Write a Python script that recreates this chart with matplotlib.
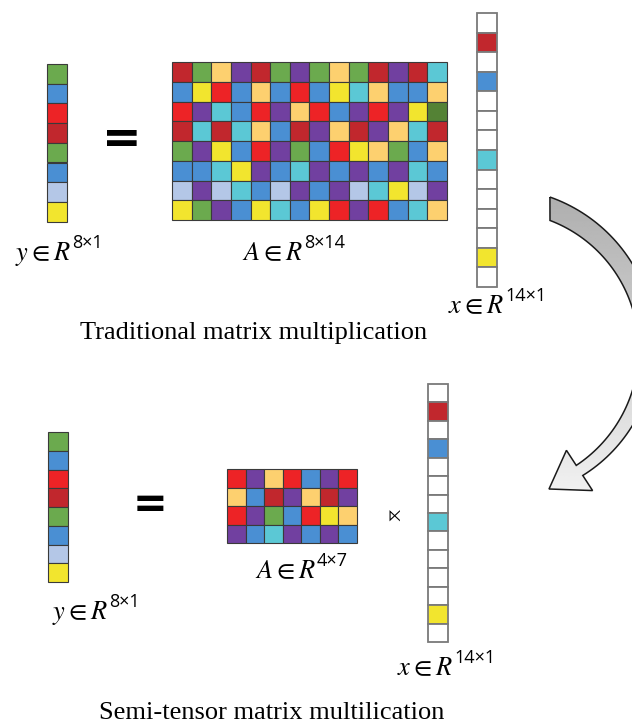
import matplotlib

matplotlib.use("Agg")
import matplotlib.pyplot as plt
import numpy as np
from matplotlib.patches import Rectangle, Polygon

plt.rcParams["mathtext.fontset"] = "stix"

# colour codes used in the cell grids
palette = {
    "R": "#C1272D",  # dark red
    "r": "#ED2326",  # red
    "G": "#6BAA4E",  # green
    "D": "#548235",  # dark green
    "O": "#FDD06F",  # peach
    "P": "#7140A0",  # purple
    "B": "#4A8FD3",  # blue
    "C": "#5BC8D5",  # cyan
    "Y": "#F2E52E",  # yellow
    "L": "#B4C7E7",  # light blue
    "W": "#FFFFFF",  # empty
}

y_vec = ["G", "B", "r", "R", "G", "B", "L", "Y"]
x_vec = ["W", "R", "W", "B", "W", "W", "W", "C", "W", "W", "W", "W", "Y", "W"]
A_full = [
    "RGOPRGPGOGRPRC",
    "BYrBOBrBYCOBBO",
    "rPCBrPOrBPrPYD",
    "RCRCOBRPORPOCR",
    "GPYBrPGBrYOGBO",
    "BBCYPBCPBPBPCB",
    "LPLCBLPBPLCYLP",
    "YGPBYCBYrPrBCO",
]
A_semi = [
    "rPOrBPr",
    "OBRPORP",
    "rPGBrYO",
    "PBCPBPB",
]

# (symbol, superscript) for each label
top_labels = [("y", "8×1"), ("A", "8×14"), ("x", "14×1")]
bottom_labels = [("y", "8×1"), ("A", "4×7"), ("x", "14×1")]
captions = ["Traditional matrix multiplication", "Semi-tensor matrix multilication"]


def draw_grid(ax, rows, x0, y0, cw, ch, edge="#3a3a3a", lw=0.8):
    for i, row in enumerate(rows):
        for j, code in enumerate(row):
            ax.add_patch(Rectangle((x0 + j * cw, y0 + i * ch), cw, ch,
                                   facecolor=palette[code], edgecolor=edge, lw=lw))


def column(codes):
    return [[c] for c in codes]


def space_label(ax, x, y, sym, sup):
    main = ax.text(x, y, rf"${sym} \in R$", fontsize=19, ha="left", va="baseline")
    ax.annotate(sup, xy=(1, 1), xycoords=main, xytext=(1, 4), textcoords="offset points",
                ha="left", va="top", fontsize=13, family="Open Sans")


def draw_arrow(ax, cx=500, cy=348):
    # curved band, clockwise from top tail to arrowhead at bottom left
    phi_o = np.radians(np.linspace(-71.7, 57, 80))
    phi_i = np.radians(np.linspace(-68.6, 57, 80))
    r_out = np.linspace(159, 152, phi_o.size)
    r_in = np.linspace(137, 140, phi_i.size)
    outer = np.c_[cx + r_out * np.cos(phi_o), cy + r_out * np.sin(phi_o)]
    inner = np.c_[cx + r_in * np.cos(phi_i), cy + r_in * np.sin(phi_i)]
    pe = phi_o[-1]
    wing_out = (cx + 170 * np.cos(pe), cy + 170 * np.sin(pe))
    wing_in = (cx + 122 * np.cos(pe), cy + 122 * np.sin(pe))
    tip = (549, 489)
    pts = np.vstack([outer, [wing_out, tip, wing_in], inner[::-1]])
    poly = Polygon(pts, closed=True, facecolor="none", edgecolor="#1a1a1a", lw=1.1, zorder=3)
    ax.add_patch(poly)
    grad = np.linspace(0.68, 0.95, 256)[:, None]
    im = ax.imshow(grad, cmap="gray", vmin=0, vmax=1, extent=(530, 700, 500, 190),
                   aspect="auto", zorder=2)
    im.set_clip_path(Polygon(pts, closed=True, transform=ax.transData))


fig = plt.figure(figsize=(6.32, 7.27), dpi=100)
ax = fig.add_axes([0, 0, 1, 1])
ax.set_xlim(0, 632)
ax.set_ylim(727, 0)
ax.axis("off")

# traditional multiplication
draw_grid(ax, column(y_vec), 47, 64, 20, 19.7)
draw_grid(ax, A_full, 172, 62, 19.64, 19.75)
draw_grid(ax, column(x_vec), 477, 13, 20, 19.57, edge="#7a7a7a", lw=1.3)
ax.text(122, 140, "=", fontsize=34, fontweight="bold", ha="center", va="center")

# semi-tensor multiplication
draw_grid(ax, column(y_vec), 48, 432, 20, 18.75)
draw_grid(ax, A_semi, 227, 469, 18.57, 18.5)
draw_grid(ax, column(x_vec), 428, 384, 20, 18.43, edge="#7a7a7a", lw=1.3)
ax.text(150, 505, "=", fontsize=30, fontweight="bold", ha="center", va="center")
ax.text(393, 515, r"$\ltimes$", fontsize=12, ha="center", va="center")

for (x, y), (sym, sup) in zip([(15, 260), (242, 260), (448, 313)], top_labels):
    space_label(ax, x, y, sym, sup)
for (x, y), (sym, sup) in zip([(52, 619), (255, 578), (397, 675)], bottom_labels):
    space_label(ax, x, y, sym, sup)

cap_kw = dict(fontsize=19, family="Liberation Serif", ha="center", va="center")
ax.text(254, 333, captions[0], **cap_kw)
ax.text(272, 713, captions[1], **cap_kw)

draw_arrow(ax)

fig.savefig("out.png", dpi=100)
